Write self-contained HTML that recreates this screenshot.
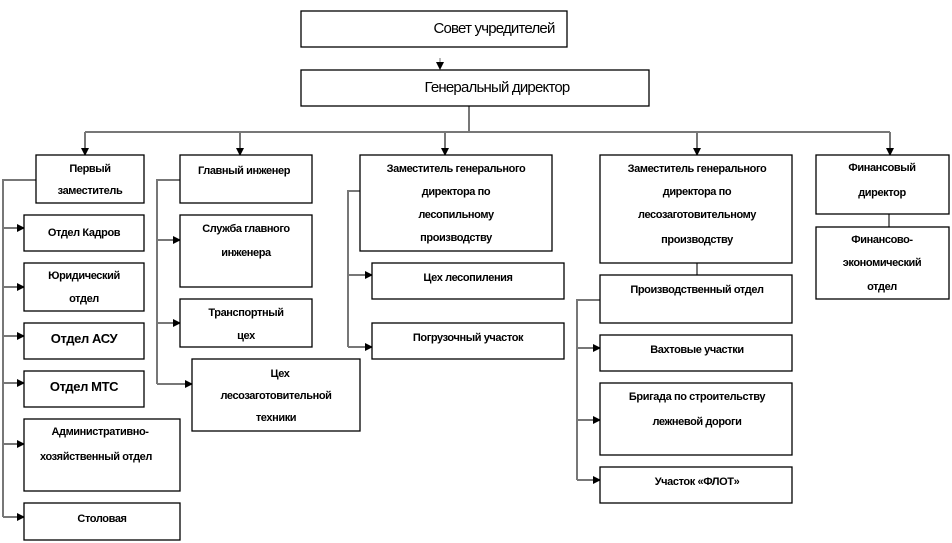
<!DOCTYPE html>
<html><head><meta charset="utf-8"><style>
html,body{margin:0;padding:0;background:#fff;width:952px;height:543px;overflow:hidden}
text{font-family:"Liberation Sans",sans-serif;font-weight:bold;font-size:11px;fill:#000;text-anchor:middle;letter-spacing:-0.4px}
.t{font-weight:normal;font-size:15px;letter-spacing:-0.8px}
rect{fill:#fff;stroke:#000;stroke-width:1.3}
.l{stroke:#777;stroke-width:2;fill:none}
</style></head><body>
<svg width="952" height="543" viewBox="0 0 952 543">
<defs><marker id="a" markerWidth="8" markerHeight="8" refX="7" refY="4" orient="auto" markerUnits="userSpaceOnUse"><path d="M0,0 L8,4 L0,8 z" fill="#000"/></marker></defs>
<!-- top connectors -->
<line class="l" x1="440" y1="58" x2="440" y2="69" marker-end="url(#a)" style="stroke-width:1"/>
<line class="l" x1="469" y1="106" x2="469" y2="132"/>
<line class="l" x1="85" y1="132" x2="890" y2="132"/>
<line class="l" x1="85" y1="132" x2="85" y2="155" marker-end="url(#a)"/>
<line class="l" x1="240" y1="132" x2="240" y2="155" marker-end="url(#a)"/>
<line class="l" x1="445" y1="132" x2="445" y2="155" marker-end="url(#a)"/>
<line class="l" x1="697" y1="132" x2="697" y2="155" marker-end="url(#a)"/>
<line class="l" x1="890" y1="132" x2="890" y2="155" marker-end="url(#a)"/>
<!-- left bus -->
<polyline class="l" points="36,180 3,180 3,517"/>
<line class="l" x1="3" y1="228" x2="24" y2="228" marker-end="url(#a)"/>
<line class="l" x1="3" y1="287" x2="24" y2="287" marker-end="url(#a)"/>
<line class="l" x1="3" y1="336" x2="24" y2="336" marker-end="url(#a)"/>
<line class="l" x1="3" y1="383" x2="24" y2="383" marker-end="url(#a)"/>
<line class="l" x1="3" y1="444" x2="24" y2="444" marker-end="url(#a)"/>
<line class="l" x1="3" y1="517" x2="24" y2="517" marker-end="url(#a)"/>
<!-- chief engineer bus -->
<polyline class="l" points="180,180 157,180 157,384"/>
<line class="l" x1="157" y1="240" x2="180" y2="240" marker-end="url(#a)"/>
<line class="l" x1="157" y1="323" x2="180" y2="323" marker-end="url(#a)"/>
<line class="l" x1="157" y1="384" x2="192" y2="384" marker-end="url(#a)"/>
<!-- sawmill bus -->
<polyline class="l" points="360,191 348,191 348,347"/>
<line class="l" x1="348" y1="275" x2="372" y2="275" marker-end="url(#a)"/>
<line class="l" x1="348" y1="347" x2="372" y2="347" marker-end="url(#a)"/>
<!-- logging -->
<line class="l" x1="697" y1="263" x2="697" y2="275"/>
<polyline class="l" points="600,300 577,300 577,480"/>
<line class="l" x1="577" y1="348" x2="600" y2="348" marker-end="url(#a)"/>
<line class="l" x1="577" y1="420" x2="600" y2="420" marker-end="url(#a)"/>
<line class="l" x1="577" y1="480" x2="600" y2="480" marker-end="url(#a)"/>
<line class="l" x1="889" y1="214" x2="889" y2="227"/>

<rect x="301" y="11" width="266" height="36"/><text class="t" x="494" y="33">Совет учредителей</text>
<rect x="301" y="70" width="348" height="36"/><text class="t" x="497" y="92">Генеральный директор</text>

<rect x="36" y="155" width="108" height="48"/><text x="90" y="172">Первый</text><text x="90" y="194">заместитель</text>
<rect x="24" y="215" width="120" height="36"/><text x="84" y="236">Отдел  Кадров</text>
<rect x="24" y="263" width="120" height="48"/><text x="84" y="279">Юридический</text><text x="84" y="302">отдел</text>
<rect x="24" y="323" width="120" height="36"/><text x="84" y="343" style="font-size:13px">Отдел  АСУ</text>
<rect x="24" y="371" width="120" height="36"/><text x="84" y="391" style="font-size:13px">Отдел  МТС</text>
<rect x="24" y="419" width="156" height="72"/><text x="100" y="435">Административно-</text><text x="96" y="460">хозяйственный  отдел</text>
<rect x="24" y="503" width="156" height="37"/><text x="102" y="522">Столовая</text>

<rect x="180" y="155" width="132" height="48"/><text x="244" y="174">Главный  инженер</text>
<rect x="180" y="215" width="132" height="72"/><text x="246" y="232">Служба  главного</text><text x="246" y="256">инженера</text>
<rect x="180" y="299" width="132" height="48"/><text x="246" y="316">Транспортный</text><text x="246" y="339">цех</text>
<rect x="192" y="359" width="168" height="72"/><text x="280" y="377">Цех</text><text x="276" y="399">лесозаготовительной</text><text x="276" y="421">техники</text>

<rect x="360" y="155" width="192" height="96"/><text x="456" y="172">Заместитель  генерального</text><text x="456" y="195">директора  по</text><text x="456" y="218">лесопильному</text><text x="456" y="241">производству</text>
<rect x="372" y="263" width="192" height="36"/><text x="468" y="281">Цех лесопиления</text>
<rect x="372" y="323" width="192" height="36"/><text x="468" y="341">Погрузочный  участок</text>

<rect x="600" y="155" width="192" height="108"/><text x="697" y="172">Заместитель  генерального</text><text x="697" y="195">директора  по</text><text x="697" y="218">лесозаготовительному</text><text x="697" y="243">производству</text>
<rect x="600" y="275" width="192" height="48"/><text x="697" y="293">Производственный  отдел</text>
<rect x="600" y="335" width="192" height="36"/><text x="697" y="353">Вахтовые  участки</text>
<rect x="600" y="383" width="192" height="72"/><text x="697" y="400">Бригада по строительству</text><text x="697" y="425">лежневой  дороги</text>
<rect x="600" y="467" width="192" height="36"/><text x="697" y="485">Участок  «ФЛОТ»</text>

<rect x="816" y="155" width="133" height="59"/><text x="882" y="171">Финансовый</text><text x="882" y="196">директор</text>
<rect x="816" y="227" width="133" height="72"/><text x="882" y="243">Финансово-</text><text x="882" y="266">экономический</text><text x="882" y="290">отдел</text>
</svg>
</body></html>
